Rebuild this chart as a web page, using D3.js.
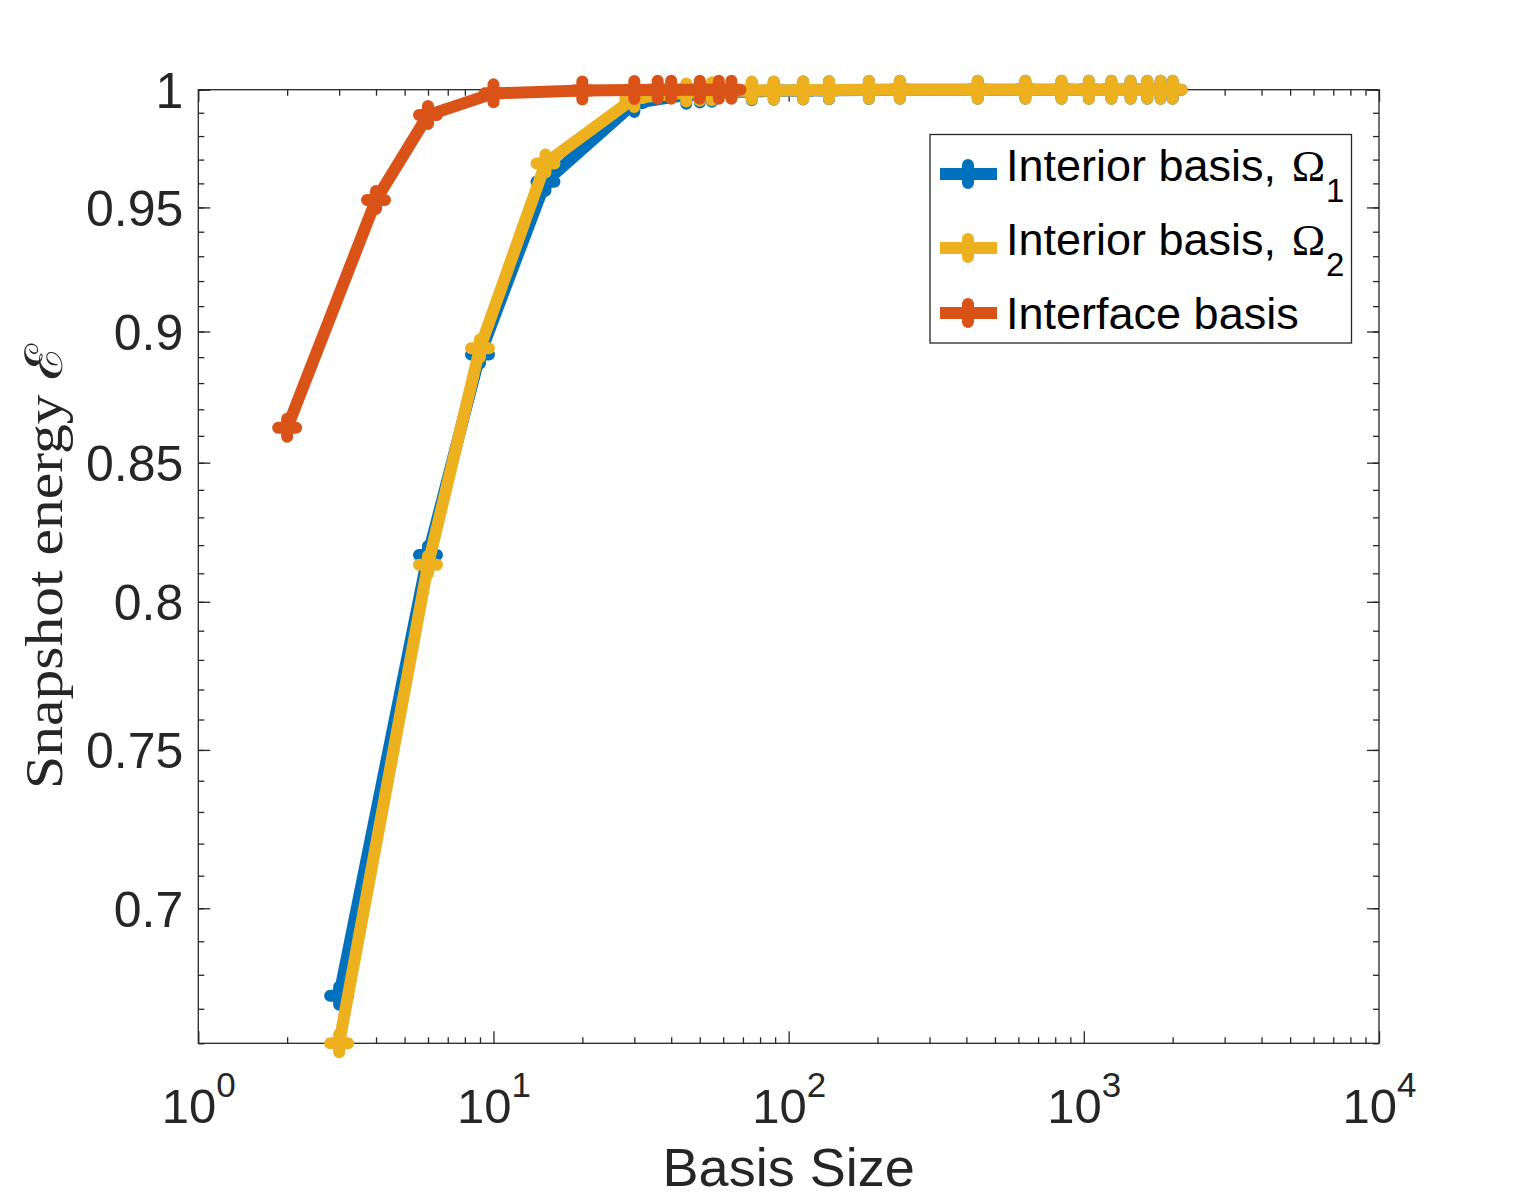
<!DOCTYPE html>
<html>
<head>
<meta charset="utf-8">
<script src="https://cdn.jsdelivr.net/npm/d3@7"></script>
<style>
  html, body { margin: 0; padding: 0; background: #fff; }
  svg { display: block; }
</style>
</head>
<body>
<svg id="chart" width="1524" height="1200"></svg>
<script>
// ---------------- data ----------------
const basisInterior = [3, 6, 9, 15, 30, 45, 50, 55, 75, 89, 112, 137, 187, 238, 437, 634, 840, 1040, 1240, 1440, 1640, 1820, 2000];
const energyOmega1  = [0.6738, 0.8165, 0.8910, 0.9607, 0.9942, 0.9978, 0.9983, 0.9987, 0.9993, 0.9995, 0.9997, 0.9998, 0.9999, 0.99993, 0.99997, 0.99998, 0.99999, 0.99999, 1, 1, 1, 1, 1];
const energyOmega2  = [0.6600, 0.8130, 0.8935, 0.9684, 0.9964, 0.9988, 0.9991, 0.9993, 0.9996, 0.9997, 0.9998, 0.99988, 0.99993, 0.99996, 0.99998, 0.99999, 0.99999, 1, 1, 1, 1, 1, 1];
const basisInterface  = [2, 4, 6, 10, 20, 30, 36, 40, 50, 58, 64];
const energyInterface = [0.8630, 0.9531, 0.9890, 0.9984, 0.9997, 0.9999, 0.99995, 0.99997, 0.99999, 1, 1];

const seriesNames  = ["Interior basis, Ω|1", "Interior basis, Ω|2", "Interface basis"];
const seriesColors = ["#0072BD", "#EDB120", "#D95319"];

const xTickValues = [1, 10, 100, 1000, 10000];
const xTickExponents = ["0", "1", "2", "3", "4"];
const yTickValues = [0.7, 0.75, 0.8, 0.85, 0.9, 0.95, 1];
const yTickLabels = ["0.7", "0.75", "0.8", "0.85", "0.9", "0.95", "1"];
const yMinorTicks = d3.range(66, 101).map(v => v / 100);
const xMinorTicks = [1, 10, 100, 1000].flatMap(d => d3.range(2, 10).map(k => k * d));

const xLabel = "Basis Size";
const yLabel = "Snapshot energy ℰ";

// ---------------- layout ----------------
const L = 198.3, R = 1379, T = 89.7, B = 1043.3;
const axisColor = "#262626";
const svg = d3.select("#chart");

const x = d3.scaleLog().domain([1, 1e4]).range([L, R]);
const y = d3.scaleLog().domain([0.66, 1]).range([B, T]);

const tickFont = "'Liberation Sans', Arial, Helvetica, sans-serif";

function styleAxis(g) {
  g.select(".domain").remove();
  g.selectAll(".tick line").attr("stroke", axisColor).attr("stroke-width", 1.3);
}
// minor ticks
svg.append("g").attr("transform", `translate(${L},0)`)
  .call(d3.axisLeft(y).tickValues(yMinorTicks).tickSize(-6).tickFormat(""))
  .call(styleAxis);
svg.append("g").attr("transform", `translate(${R},0)`)
  .call(d3.axisRight(y).tickValues(yMinorTicks).tickSize(-6).tickFormat(""))
  .call(styleAxis);
svg.append("g").attr("transform", `translate(0,${B})`)
  .call(d3.axisBottom(x).tickValues(xMinorTicks).tickSize(-6).tickFormat(""))
  .call(styleAxis);
svg.append("g").attr("transform", `translate(0,${T})`)
  .call(d3.axisTop(x).tickValues(xMinorTicks).tickSize(-6).tickFormat(""))
  .call(styleAxis);

// major ticks
const yAxisG = svg.append("g").attr("transform", `translate(${L},0)`)
  .call(d3.axisLeft(y).tickValues(yTickValues).tickSize(-12).tickPadding(15)
        .tickFormat((d, i) => yTickLabels[i]))
  .call(styleAxis);
yAxisG.selectAll(".tick text")
  .attr("fill", axisColor).attr("font-family", tickFont).attr("font-size", 50)
  .attr("dy", "0.36em");

svg.append("g").attr("transform", `translate(${R},0)`)
  .call(d3.axisRight(y).tickValues(yTickValues).tickSize(-12).tickFormat(""))
  .call(styleAxis);
svg.append("g").attr("transform", `translate(0,${T})`)
  .call(d3.axisTop(x).tickValues(xTickValues).tickSize(-12).tickFormat(""))
  .call(styleAxis);

const xAxisG = svg.append("g").attr("transform", `translate(0,${B})`)
  .call(d3.axisBottom(x).tickValues(xTickValues).tickSize(-12).tickFormat(""))
  .call(styleAxis);
xAxisG.selectAll(".tick").each(function(d, i) {
  const t = d3.select(this).append("text")
    .attr("fill", axisColor).attr("font-family", tickFont)
    .attr("text-anchor", "middle").attr("y", 80);
  t.append("tspan").attr("font-size", 49).text("10");
  t.append("tspan").attr("font-size", 35).attr("dy", -26).text(xTickExponents[i]);
});

// box
svg.append("rect").attr("x", L).attr("y", T).attr("width", R - L).attr("height", B - T)
  .attr("fill", "none").attr("stroke", axisColor).attr("stroke-width", 1.3);

// axis labels
svg.append("text").attr("x", (L + R) / 2).attr("y", 1186)
  .attr("text-anchor", "middle").attr("fill", axisColor)
  .attr("font-family", tickFont).attr("font-size", 54).text(xLabel);

svg.append("text")
  .attr("transform", `translate(62,${(T + B) / 2}) rotate(-90)`)
  .attr("text-anchor", "middle").attr("fill", axisColor)
  .attr("font-family", "'Liberation Serif', 'DejaVu Serif', serif").attr("font-size", 52)
  .attr("textLength", 445).attr("lengthAdjust", "spacingAndGlyphs")
  .text(yLabel);

// ---------------- series ----------------
const series = [
  { xs: basisInterior,  ys: energyOmega1 },
  { xs: basisInterior,  ys: energyOmega2 },
  { xs: basisInterface, ys: energyInterface }
];
const line = d3.line().x(d => x(d[0])).y(d => y(d[1]));
const plusPath = "M-9,0H9M0,-9V9";

series.forEach((s, si) => {
  const pts = s.xs.map((v, i) => [v, s.ys[i]]);
  const g = svg.append("g");
  g.append("path").datum(pts).attr("d", line)
    .attr("fill", "none").attr("stroke", seriesColors[si]).attr("stroke-width", 12)
    .attr("stroke-linejoin", "round");
  g.selectAll("path.m").data(pts).join("path").attr("class", "m")
    .attr("d", plusPath)
    .attr("transform", d => `translate(${x(d[0])},${y(d[1])})`)
    .attr("fill", "none").attr("stroke", seriesColors[si]).attr("stroke-width", 12)
    .attr("stroke-linecap", "round");
});

// ---------------- legend ----------------
const lg = svg.append("g");
lg.append("rect").attr("x", 930).attr("y", 134.5).attr("width", 421.5).attr("height", 208.5)
  .attr("fill", "#fff").attr("stroke", axisColor).attr("stroke-width", 1.3);
const rowLine = [174, 248, 313];
const rowBase = [181, 255, 329];
seriesNames.forEach((name, i) => {
  lg.append("line").attr("x1", 940).attr("x2", 997).attr("y1", rowLine[i]).attr("y2", rowLine[i])
    .attr("stroke", seriesColors[i]).attr("stroke-width", 12);
  lg.append("path").attr("d", plusPath).attr("transform", `translate(968,${rowLine[i]})`)
    .attr("fill", "none").attr("stroke", seriesColors[i]).attr("stroke-width", 12)
    .attr("stroke-linecap", "round");
  const parts = name.split("|");
  const t = lg.append("text").attr("x", 1006).attr("y", rowBase[i])
    .attr("fill", "#000").attr("font-family", tickFont).attr("font-size", 45);
  if (parts.length === 2) {
    const main = parts[0];
    t.append("tspan").text(main.slice(0, -1));
    t.append("tspan").attr("font-family", "'Liberation Serif', serif")
      .attr("font-size", 45).attr("dx", 3).text(main.slice(-1));
    t.append("tspan").attr("font-size", 33).attr("dy", 21).attr("dx", 1).text(parts[1]);
  } else {
    t.text(name);
  }
});
</script>
</body>
</html>
